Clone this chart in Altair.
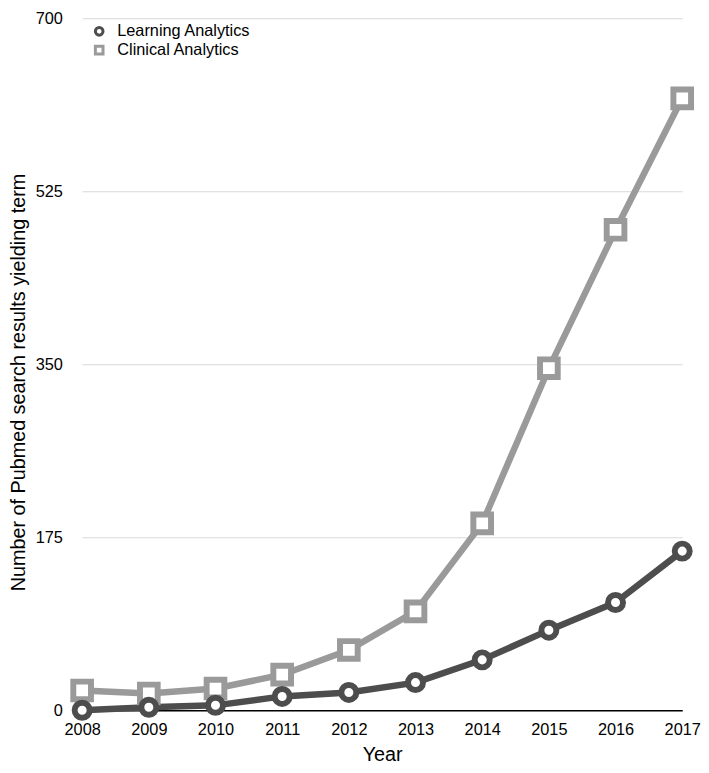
import altair as alt
import pandas as pd

years = [2008, 2009, 2010, 2011, 2012, 2013, 2014, 2015, 2016, 2017]
learning = [0, 3, 5, 14, 18, 28, 51, 81, 109, 161]
clinical = [20, 17, 22, 36, 61, 100, 189, 346, 486, 619]
series_names = ["Learning Analytics", "Clinical Analytics"]
series_colors = ["#4d4d4d", "#9a9a9a"]
series_shapes = ["circle", "square"]
y_ticks = [0, 175, 350, 525, 700]

rows = []
for yr, v in zip(years, clinical):
    rows.append({"year": yr, "count": v, "series": "Clinical Analytics"})
for yr, v in zip(years, learning):
    rows.append({"year": yr, "count": v, "series": "Learning Analytics"})
df = pd.DataFrame(rows)

FONT = "Liberation Sans"

color_scale = alt.Scale(domain=series_names, range=series_colors)
shape_scale = alt.Scale(domain=series_names, range=series_shapes)

x_enc = alt.X(
    "year:O",
    scale=alt.Scale(type="point", padding=0),
    axis=alt.Axis(
        title="Year", labelAngle=0, ticks=False, tickSize=0, labelPadding=12,
        domainColor="black", domainWidth=1.5, grid=False,
        labelFontSize=16.5, labelFont=FONT, labelColor="black",
        titleFontSize=20, titleFont=FONT, titleFontWeight="normal",
        titleColor="black", titlePadding=6,
    ),
)
y_enc = alt.Y(
    "count:Q",
    scale=alt.Scale(domain=[0, 700], nice=False),
    axis=alt.Axis(
        title="Number of Pubmed search results yielding term",
        values=y_ticks, ticks=False, tickSize=0, domain=False, labelPadding=20,
        gridColor="#d9d9d9", gridWidth=1,
        labelFontSize=16.5, labelFont=FONT, labelColor="black",
        titleFontSize=20, titleFont=FONT, titleFontWeight="normal",
        titleColor="black", titleX=-54, titleY=368, titleBaseline="bottom",
    ),
)

legend = alt.Legend(
    title=None, orient="none", legendX=9, legendY=5,
    labelFontSize=16.5, labelFont=FONT, labelColor="black",
    symbolSize=60, symbolStrokeWidth=3, rowPadding=-2, labelOffset=10,
    padding=0, symbolFillColor="white",
)

base = alt.Chart(df)

lines = base.mark_line(strokeWidth=6.5).encode(
    x=x_enc,
    y=y_enc,
    color=alt.Color("series:N", scale=color_scale, legend=legend),
)


def point_layer(name, size):
    return base.transform_filter(alt.datum.series == name).mark_point(
        filled=False, fill="white", fillOpacity=1, opacity=1,
        strokeWidth=6, size=size,
    ).encode(
        x=x_enc,
        y=y_enc,
        color=alt.Color("series:N", scale=color_scale, legend=legend),
        shape=alt.Shape("series:N", scale=shape_scale, legend=legend),
    )


chart = (
    alt.layer(
        lines,
        point_layer("Clinical Analytics", 320),
        point_layer("Learning Analytics", 230),
    )
    .properties(
        width=607, height=700,
        padding={"left": 75, "top": 6, "right": 19, "bottom": 51},
        autosize=alt.AutoSizeParams(type="none"),
        background="white",
    )
    .configure_view(stroke=None)
)

chart.save("out.html", embed_options={"renderer": "svg", "actions": False})
